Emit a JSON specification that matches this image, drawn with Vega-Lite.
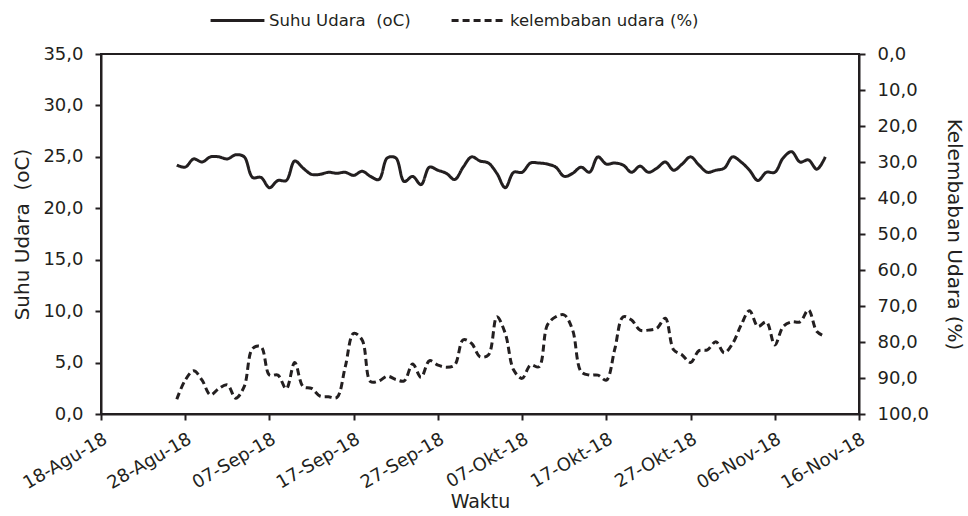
{
  "$schema": "https://vega.github.io/schema/vega-lite/v6.json",
  "width": 758,
  "height": 360,
  "autosize": {"type": "none"},
  "padding": {"left": 101, "top": 54, "right": 109, "bottom": 102},
  "background": "white",
  "config": {
    "font": "DejaVu Sans",
    "view": {"stroke": "#231f20", "strokeWidth": 2},
    "axis": {
      "domainColor": "#231f20",
      "domainWidth": 2,
      "tickColor": "#231f20",
      "tickWidth": 2,
      "tickSize": 6,
      "labelFontSize": 18,
      "labelColor": "#231f20",
      "labelPadding": 12,
      "titleFontSize": 20,
      "titleFontWeight": "normal",
      "titleColor": "#231f20",
      "grid": false
    },
    "legend": {
      "labelFontSize": 16.5,
      "labelColor": "#231f20",
      "labelLimit": 0
    }
  },
  "data": {
    "values": [
      {"date": "2018-08-27", "suhu": 24.2, "kelembaban": 95.9},
      {"date": "2018-08-28", "suhu": 24.0, "kelembaban": 90.6},
      {"date": "2018-08-29", "suhu": 24.8, "kelembaban": 88.0},
      {"date": "2018-08-30", "suhu": 24.5, "kelembaban": 90.6},
      {"date": "2018-08-31", "suhu": 25.0, "kelembaban": 94.7},
      {"date": "2018-09-01", "suhu": 25.0, "kelembaban": 92.9},
      {"date": "2018-09-02", "suhu": 24.8, "kelembaban": 91.9},
      {"date": "2018-09-03", "suhu": 25.2, "kelembaban": 95.6},
      {"date": "2018-09-04", "suhu": 25.0, "kelembaban": 92.4},
      {"date": "2018-09-05", "suhu": 23.0, "kelembaban": 81.8},
      {"date": "2018-09-06", "suhu": 23.0, "kelembaban": 81.3},
      {"date": "2018-09-07", "suhu": 22.0, "kelembaban": 89.2},
      {"date": "2018-09-08", "suhu": 22.7, "kelembaban": 89.2},
      {"date": "2018-09-09", "suhu": 22.7, "kelembaban": 93.0},
      {"date": "2018-09-10", "suhu": 24.6, "kelembaban": 85.7},
      {"date": "2018-09-11", "suhu": 23.9, "kelembaban": 92.4},
      {"date": "2018-09-12", "suhu": 23.3, "kelembaban": 92.9},
      {"date": "2018-09-13", "suhu": 23.3, "kelembaban": 95.0},
      {"date": "2018-09-14", "suhu": 23.5, "kelembaban": 95.2},
      {"date": "2018-09-15", "suhu": 23.4, "kelembaban": 95.4},
      {"date": "2018-09-16", "suhu": 23.5, "kelembaban": 86.9},
      {"date": "2018-09-17", "suhu": 23.2, "kelembaban": 77.6},
      {"date": "2018-09-18", "suhu": 23.6, "kelembaban": 79.4},
      {"date": "2018-09-19", "suhu": 23.1, "kelembaban": 91.0},
      {"date": "2018-09-20", "suhu": 22.8, "kelembaban": 90.8},
      {"date": "2018-09-21", "suhu": 24.9, "kelembaban": 89.5},
      {"date": "2018-09-22", "suhu": 24.9, "kelembaban": 90.4},
      {"date": "2018-09-23", "suhu": 22.6, "kelembaban": 90.8},
      {"date": "2018-09-24", "suhu": 23.1, "kelembaban": 86.1},
      {"date": "2018-09-25", "suhu": 22.3, "kelembaban": 89.8},
      {"date": "2018-09-26", "suhu": 24.0, "kelembaban": 85.2},
      {"date": "2018-09-27", "suhu": 23.7, "kelembaban": 86.4},
      {"date": "2018-09-28", "suhu": 23.4, "kelembaban": 87.0},
      {"date": "2018-09-29", "suhu": 22.8, "kelembaban": 86.4},
      {"date": "2018-09-30", "suhu": 24.0, "kelembaban": 79.4},
      {"date": "2018-10-01", "suhu": 25.0, "kelembaban": 80.4},
      {"date": "2018-10-02", "suhu": 24.6, "kelembaban": 84.1},
      {"date": "2018-10-03", "suhu": 24.4, "kelembaban": 83.6},
      {"date": "2018-10-04", "suhu": 23.4, "kelembaban": 73.0},
      {"date": "2018-10-05", "suhu": 22.0, "kelembaban": 77.6},
      {"date": "2018-10-06", "suhu": 23.5, "kelembaban": 87.8},
      {"date": "2018-10-07", "suhu": 23.5, "kelembaban": 90.1},
      {"date": "2018-10-08", "suhu": 24.4, "kelembaban": 86.4},
      {"date": "2018-10-09", "suhu": 24.4, "kelembaban": 86.9},
      {"date": "2018-10-10", "suhu": 24.3, "kelembaban": 75.3},
      {"date": "2018-10-11", "suhu": 24.0, "kelembaban": 73.0},
      {"date": "2018-10-12", "suhu": 23.1, "kelembaban": 72.5},
      {"date": "2018-10-13", "suhu": 23.4, "kelembaban": 76.7},
      {"date": "2018-10-14", "suhu": 24.0, "kelembaban": 88.2},
      {"date": "2018-10-15", "suhu": 23.5, "kelembaban": 89.2},
      {"date": "2018-10-16", "suhu": 25.0, "kelembaban": 89.2},
      {"date": "2018-10-17", "suhu": 24.3, "kelembaban": 90.6},
      {"date": "2018-10-18", "suhu": 24.4, "kelembaban": 82.0},
      {"date": "2018-10-19", "suhu": 24.2, "kelembaban": 73.0},
      {"date": "2018-10-20", "suhu": 23.5, "kelembaban": 73.9},
      {"date": "2018-10-21", "suhu": 24.1, "kelembaban": 76.7},
      {"date": "2018-10-22", "suhu": 23.5, "kelembaban": 76.7},
      {"date": "2018-10-23", "suhu": 23.9, "kelembaban": 76.2},
      {"date": "2018-10-24", "suhu": 24.5, "kelembaban": 73.4},
      {"date": "2018-10-25", "suhu": 23.7, "kelembaban": 82.2},
      {"date": "2018-10-26", "suhu": 24.3, "kelembaban": 83.6},
      {"date": "2018-10-27", "suhu": 25.0, "kelembaban": 85.7},
      {"date": "2018-10-28", "suhu": 24.2, "kelembaban": 82.4},
      {"date": "2018-10-29", "suhu": 23.5, "kelembaban": 82.2},
      {"date": "2018-10-30", "suhu": 23.7, "kelembaban": 79.9},
      {"date": "2018-10-31", "suhu": 23.9, "kelembaban": 83.0},
      {"date": "2018-11-01", "suhu": 25.0, "kelembaban": 80.4},
      {"date": "2018-11-02", "suhu": 24.5, "kelembaban": 75.3},
      {"date": "2018-11-03", "suhu": 23.7, "kelembaban": 71.3},
      {"date": "2018-11-04", "suhu": 22.7, "kelembaban": 75.7},
      {"date": "2018-11-05", "suhu": 23.5, "kelembaban": 74.4},
      {"date": "2018-11-06", "suhu": 23.5, "kelembaban": 80.8},
      {"date": "2018-11-07", "suhu": 24.9, "kelembaban": 75.7},
      {"date": "2018-11-08", "suhu": 25.5, "kelembaban": 74.4},
      {"date": "2018-11-09", "suhu": 24.5, "kelembaban": 74.4},
      {"date": "2018-11-10", "suhu": 24.7, "kelembaban": 71.1},
      {"date": "2018-11-11", "suhu": 23.8, "kelembaban": 77.1},
      {"date": "2018-11-12", "suhu": 25.0, "kelembaban": 78.5}
    ]
  },
  "encoding": {
    "x": {
      "field": "date",
      "type": "temporal",
      "scale": {
        "type": "utc",
        "domain": [
          {"year": 2018, "month": 8, "date": 18, "utc": true},
          {"year": 2018, "month": 11, "date": 16, "utc": true}
        ]
      },
      "axis": {
        "title": "Waktu",
        "titlePadding": 0,
        "titleFontSize": 19,
        "labelAngle": -30,
        "labelAlign": "right",
        "labelBaseline": "top",
        "labelPadding": 10,
        "labelOverlap": false,
        "labelBound": false,
        "labelFlush": false,
        "values": [
          {"year": 2018, "month": 8, "date": 18, "utc": true},
          {"year": 2018, "month": 8, "date": 28, "utc": true},
          {"year": 2018, "month": 9, "date": 7, "utc": true},
          {"year": 2018, "month": 9, "date": 17, "utc": true},
          {"year": 2018, "month": 9, "date": 27, "utc": true},
          {"year": 2018, "month": 10, "date": 7, "utc": true},
          {"year": 2018, "month": 10, "date": 17, "utc": true},
          {"year": 2018, "month": 10, "date": 27, "utc": true},
          {"year": 2018, "month": 11, "date": 6, "utc": true},
          {"year": 2018, "month": 11, "date": 16, "utc": true}
        ],
        "labelExpr": "utcFormat(datum.value, '%d') + '-' + ['Jan','Feb','Mar','Apr','Mei','Jun','Jul','Agu','Sep','Okt','Nov','Des'][utcmonth(datum.value)] + '-18'"
      }
    }
  },
  "layer": [
    {
      "mark": {"type": "line", "interpolate": "catmull-rom", "strokeWidth": 3, "color": "#231f20"},
      "encoding": {
        "y": {
          "field": "suhu",
          "type": "quantitative",
          "scale": {"domain": [0, 35], "nice": false},
          "axis": {
            "title": "Suhu Udara\u00a0 (oC)",
            "titlePadding": 10,
            "values": [0, 5, 10, 15, 20, 25, 30, 35],
            "labelExpr": "replace(format(datum.value, '.1f'), '.', ',')"
          }
        },
        "strokeDash": {
          "datum": "Suhu Udara\u00a0 (oC)",
          "scale": {
            "domain": ["Suhu Udara\u00a0 (oC)", "kelembaban udara (%)"],
            "range": [[1, 0], [7, 4]]
          },
          "legend": {
            "title": null,
            "orient": "none",
            "direction": "horizontal",
            "legendX": 108,
            "legendY": -62,
            "symbolType": "stroke",
            "symbolSize": 2900,
            "symbolStrokeWidth": 3,
            "symbolStrokeColor": "#231f20",
            "labelOffset": 3,
            "columnPadding": 34,
            "padding": 0
          }
        }
      }
    },
    {
      "mark": {"type": "line", "interpolate": "catmull-rom", "strokeWidth": 3, "color": "#231f20"},
      "encoding": {
        "y": {
          "field": "kelembaban",
          "type": "quantitative",
          "scale": {"domain": [0, 100], "reverse": true, "nice": false},
          "axis": {
            "orient": "right",
            "title": "Kelembaban Udara (%)",
            "titlePadding": 15,
            "values": [0, 10, 20, 30, 40, 50, 60, 70, 80, 90, 100],
            "labelExpr": "replace(format(datum.value, '.1f'), '.', ',')"
          }
        },
        "strokeDash": {"datum": "kelembaban udara (%)"}
      }
    }
  ],
  "resolve": {"scale": {"y": "independent"}}
}
